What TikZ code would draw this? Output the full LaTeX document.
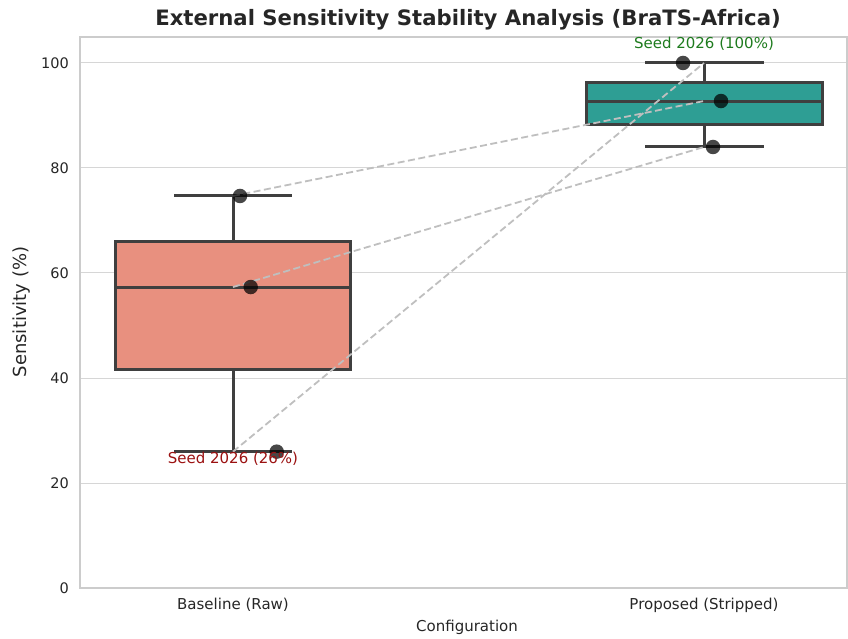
\documentclass[tikz,border=0pt]{standalone}
\usepackage{fontspec}
\setmainfont{DejaVu Sans}
\usetikzlibrary{positioning}

\definecolor{salmonbox}{HTML}{E8907F}
\definecolor{tealbox}{HTML}{2E9E94}
\definecolor{edgegray}{HTML}{3F3F3F}
\definecolor{gridgray}{HTML}{D6D6D6}
\definecolor{framegray}{HTML}{CCCCCC}
\definecolor{labelgray}{HTML}{262626}
\definecolor{seedred}{HTML}{9B1111}
\definecolor{seedgreen}{HTML}{1E7B1E}

\begin{document}
\begin{tikzpicture}[
    x=1pt, y=1pt,
    ticklabel/.style={font=\fontsize{14.5}{17}\selectfont, text=labelgray, inner sep=0pt},
    axislabel/.style={font=\fontsize{15}{18}\selectfont, text=labelgray, inner sep=0pt},
    gridline/.style={draw=gridgray, line width=1pt},
    frame/.style={draw=framegray, line width=1.2pt},
    whisker/.style={draw=edgegray, line width=3pt, line cap=butt},
    boxbody/.style={draw=edgegray, line width=3pt},
    pairline/.style={draw=black!25, line width=1.8pt, dash pattern=on 7pt off 3.5pt},
    seedpt/.style={circle, fill=black, fill opacity=0.72, minimum size=14.5pt, inner sep=0pt},
    seedlabel/.style={font=\fontsize{15}{18}\selectfont, inner sep=0pt}
]
  \useasboundingbox (0,0) rectangle (848,638);

  % Title
  \node[font=\bfseries\fontsize{21.2}{25}\selectfont, text=labelgray] (title) at (468,618)
    {External Sensitivity Stability Analysis (BraTS-Africa)};

  \begin{scope}[shift={(0,50)}, y=5.25pt]
    % Grid and y ticks
    \foreach \v in {0,20,...,100} {
      \draw[gridline] (80,\v) -- (847,\v);
      \node[ticklabel, anchor=east] (ytick\v) at (69,\v) {\v};
    }
    \draw[frame] (80,0) rectangle (847,104.95);

    % Baseline (Raw)
    \draw[whisker] (233,41.66) -- (233,25.97);
    \draw[whisker] (174,25.97) -- (292,25.97);
    \draw[whisker] (233,66.0) -- (233,74.67);
    \draw[whisker] (174,74.67) -- (292,74.67);
    \draw[boxbody, fill=salmonbox] (115,41.66) rectangle (350.5,66.0);
    \draw[whisker] (115,57.33) -- (350.5,57.33);

    % Proposed (Stripped)
    \draw[whisker] (704,88.35) -- (704,84.0);
    \draw[whisker] (645,84.0) -- (764,84.0);
    \draw[whisker] (704,96.3) -- (704,100.0);
    \draw[whisker] (645,100.0) -- (764,100.0);
    \draw[boxbody, fill=tealbox] (586,88.35) rectangle (822.5,96.3);
    \draw[whisker] (586,92.76) -- (822.5,92.76);

    % Seed pairs
    \coordinate (baseA) at (233,74.67);
    \coordinate (baseB) at (233,57.33);
    \coordinate (baseC) at (233,25.97);
    \coordinate (propA) at (704,92.76);
    \coordinate (propB) at (704,84.0);
    \coordinate (propC) at (704,100.0);
    \draw[pairline] (baseA) -- (propA);
    \draw[pairline] (baseB) -- (propB);
    \draw[pairline] (baseC) -- (propC);

    % Seed points
    \node[seedpt] (ptbaseA) at (240,74.67) {};
    \node[seedpt] (ptbaseB) at (250.7,57.33) {};
    \node[seedpt] (ptbaseC) at (276.7,25.97) {};
    \node[seedpt] (ptpropA) at (721,92.76) {};
    \node[seedpt] (ptpropB) at (713,84.0) {};
    \node[seedpt] (ptpropC) at (683,100.0) {};

    % Seed 2026 labels
    \node[seedlabel, text=seedred] (worst) at (233,24.7) {Seed 2026 (26\%)};
    \node[seedlabel, text=seedgreen] (best) at (704,103.6) {Seed 2026 (100\%)};
  \end{scope}

  % Axis labels
  \node[axislabel] (xbase) at (233,33) {Baseline (Raw)};
  \node[axislabel] (xprop) at (704,33) {Proposed (Stripped)};
  \node[axislabel] (xlabel) at (467,11) {Configuration};
  \node[axislabel, font=\fontsize{18}{21}\selectfont, rotate=90] (ylabel) at (22,326) {Sensitivity (\%)};
\end{tikzpicture}
\end{document}
